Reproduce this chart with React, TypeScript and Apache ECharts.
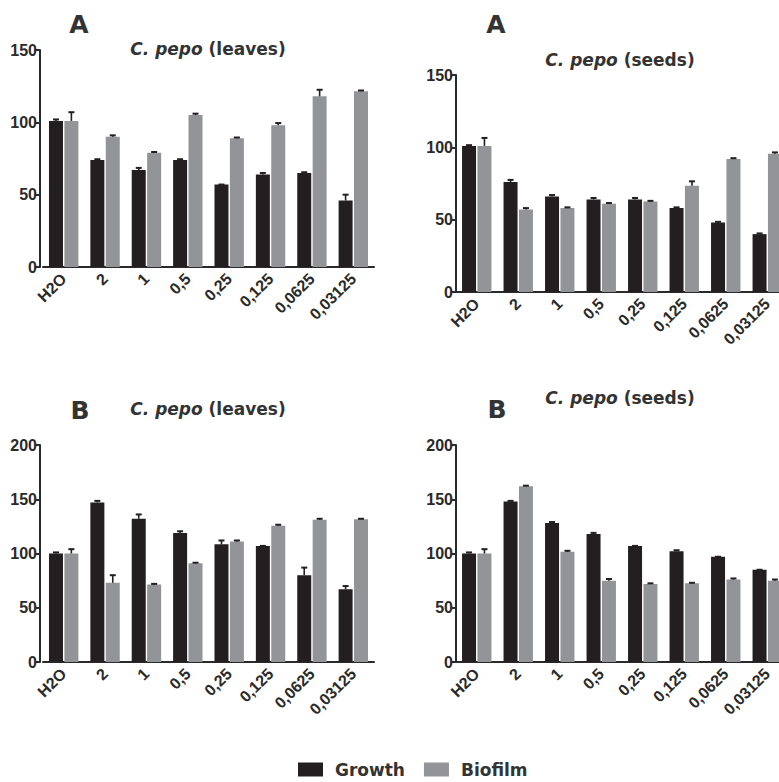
import React, { useEffect, useRef } from "react";
import * as echarts from "echarts";

const categories = ["H2O", "2", "1", "0,5", "0,25", "0,125", "0,0625", "0,03125"];

// Panel A – C. pepo (leaves)
const aLeavesGrowth = [101, 74, 67, 74, 57, 64, 65, 46];
const aLeavesGrowthErr = [1, 0.5, 1.5, 0.5, 0, 1, 0.5, 4];
const aLeavesBiofilm = [101, 90, 79, 105, 89, 98, 118, 121.5];
const aLeavesBiofilmErr = [6, 1, 0.5, 1, 0.5, 1.5, 4.5, 0.5];

// Panel A – C. pepo (seeds)
const aSeedsGrowth = [101, 76, 66, 64, 64, 58, 48, 40];
const aSeedsGrowthErr = [0.5, 1.5, 1, 1, 1, 0.5, 0.5, 0.5];
const aSeedsBiofilm = [101, 57, 58, 61, 62.5, 73.5, 92, 95.5];
const aSeedsBiofilmErr = [5.5, 1, 0.5, 0.5, 0.5, 3, 0.5, 1];

// Panel B – C. pepo (leaves)
const bLeavesGrowth = [100, 147, 132, 119, 108.5, 107, 80, 67];
const bLeavesGrowthErr = [1, 1.5, 4, 1.5, 3.5, 0, 7, 3];
const bLeavesBiofilm = [100, 73, 71.5, 91, 111, 125.5, 131, 131.5];
const bLeavesBiofilmErr = [4, 7, 0.5, 0.5, 1, 1, 1, 0.5];

// Panel B – C. pepo (seeds)
const bSeedsGrowth = [100, 148, 128, 118, 107, 102, 97, 85];
const bSeedsGrowthErr = [1, 0.5, 1, 1, 0, 1, 0, 0];
const bSeedsBiofilm = [100, 162, 101.5, 75, 72, 72.5, 76, 75];
const bSeedsBiofilmErr = [4, 0.5, 1, 1.5, 0.5, 0.5, 1, 1];

const yMaxA = 150;
const yMaxB = 200;
const yStep = 50;

const BLACK = "#231f20";
const GREY = "#939497";
const TEXT = "#2a2a2a";
const AXIS_FONT = "'Liberation Sans', Arial, sans-serif";
const TITLE_FONT = "'DejaVu Sans', sans-serif";

// chart canvas is a bit wider than the window so the right panels are cut at the edge like the reference
const CANVAS_W = 800;
const CANVAS_H = 782;

export default function App() {
  const ref = useRef<HTMLDivElement>(null);

  useEffect(() => {
    if (!ref.current) return;
    document.documentElement.style.overflow = "hidden";
    document.body.style.overflow = "hidden";
    const chart = echarts.init(ref.current, null, { renderer: "svg" });

    const grids = [
      { left: 43, top: 50, width: 331, height: 217 },
      { left: 456, top: 75, width: 332, height: 217 },
      { left: 43, top: 445, width: 331, height: 217 },
      { left: 456, top: 445, width: 332, height: 217 },
    ];
    const yOffsets = [3, 0, 3, 0];
    const yMaxes = [yMaxA, yMaxA, yMaxB, yMaxB];

    const xAxes = grids.map((_, i) => ({
      type: "category",
      gridIndex: i,
      data: categories,
      axisLine: { lineStyle: { color: TEXT, width: 2 } },
      axisTick: { alignWithLabel: true, length: 5, lineStyle: { color: TEXT, width: 2 } },
      axisLabel: {
        rotate: 45,
        interval: 0,
        margin: 9,
        fontSize: 16,
        fontWeight: "bold",
        fontFamily: AXIS_FONT,
        color: TEXT,
      },
    }));

    const yAxes = grids.map((_, i) => ({
      type: "value",
      gridIndex: i,
      min: 0,
      max: yMaxes[i],
      interval: yStep,
      offset: yOffsets[i],
      splitLine: { show: false },
      axisLine: { show: true, lineStyle: { color: TEXT, width: 2 } },
      axisTick: { show: true, length: 5, lineStyle: { color: TEXT, width: 2 } },
      axisLabel: {
        margin: 3,
        fontSize: 16,
        fontWeight: "bold",
        fontFamily: AXIS_FONT,
        color: TEXT,
      },
    }));

    const panels = [
      [aLeavesGrowth, aLeavesGrowthErr, aLeavesBiofilm, aLeavesBiofilmErr],
      [aSeedsGrowth, aSeedsGrowthErr, aSeedsBiofilm, aSeedsBiofilmErr],
      [bLeavesGrowth, bLeavesGrowthErr, bLeavesBiofilm, bLeavesBiofilmErr],
      [bSeedsGrowth, bSeedsGrowthErr, bSeedsBiofilm, bSeedsBiofilmErr],
    ];

    const BAR_W = 14;
    const GAP = 0.1;
    const off = (BAR_W + BAR_W * GAP) / 2;

    const errSeries = (vals: number[], errs: number[], idx: number, offset: number) => ({
      type: "custom",
      xAxisIndex: idx,
      yAxisIndex: idx,
      z: 5,
      silent: true,
      clip: false,
      encode: { x: 0, y: 1 },
      data: vals.map((v, i) => [i, v, errs[i]]),
      renderItem: (params: any, api: any) => {
        const i = api.value(0);
        const v = api.value(1);
        const e = api.value(2);
        const p0 = api.coord([i, v]);
        const p1 = api.coord([i, v + e]);
        const x = p0[0] + offset;
        return {
          type: "group",
          children: [
            {
              type: "line",
              shape: { x1: x, y1: p0[1], x2: x, y2: p1[1] },
              style: { stroke: BLACK, lineWidth: 1.6 },
            },
            {
              type: "line",
              shape: { x1: x - 3, y1: p1[1], x2: x + 3, y2: p1[1] },
              style: { stroke: BLACK, lineWidth: 2 },
            },
          ],
        };
      },
    });

    const series: any[] = [];
    panels.forEach((p, idx) => {
      const [g, ge, b, be] = p;
      series.push({
        type: "bar",
        name: "Growth",
        xAxisIndex: idx,
        yAxisIndex: idx,
        data: g,
        barWidth: BAR_W,
        barGap: "10%",
        itemStyle: { color: BLACK },
      });
      series.push({
        type: "bar",
        name: "Biofilm",
        xAxisIndex: idx,
        yAxisIndex: idx,
        data: b,
        barWidth: BAR_W,
        barGap: "10%",
        itemStyle: { color: GREY },
      });
      series.push(errSeries(g, ge, idx, -off));
      series.push(errSeries(b, be, idx, off));
    });

    const richStyle = {
      i: { fontStyle: "italic", fontWeight: "bold", fontSize: 17, fontFamily: TITLE_FONT, fill: "#333" },
      b: { fontWeight: "bold", fontSize: 17, fontFamily: TITLE_FONT, fill: "#333" },
    };
    const letter = (t: string, x: number, y: number) => ({
      type: "text",
      x,
      y,
      style: {
        text: t,
        fontSize: 25,
        fontWeight: "bold",
        fontFamily: TITLE_FONT,
        fill: "#333",
        align: "center",
        verticalAlign: "middle",
      },
    });
    const title = (organ: string, x: number, y: number) => ({
      type: "text",
      x,
      y,
      style: {
        text: "{i|C. pepo }{b|(" + organ + ")}",
        rich: richStyle,
        align: "center",
        verticalAlign: "middle",
      },
    });

    chart.setOption({
      animation: false,
      backgroundColor: "#ffffff",
      grid: grids,
      xAxis: xAxes,
      yAxis: yAxes,
      series,
      legend: {
        data: ["Growth", "Biofilm"],
        left: 298,
        top: 761,
        padding: 0,
        icon: "rect",
        itemWidth: 25,
        itemHeight: 14,
        itemGap: 19,
        textStyle: {
          fontSize: 17,
          fontWeight: "bold",
          fontFamily: TITLE_FONT,
          color: "#333",
          padding: [0, 0, 0, 7],
        },
      },
      graphic: [
        letter("A", 79, 24),
        title("leaves", 208, 49),
        letter("A", 496, 24),
        title("seeds", 620, 60),
        letter("B", 80, 410),
        title("leaves", 208, 409),
        letter("B", 497, 409),
        title("seeds", 620, 398),
      ],
    });

    return () => chart.dispose();
  }, []);

  return (
    <div style={{ position: "fixed", left: 0, top: 0, width: 779, height: 782, overflow: "hidden" }}>
      <div ref={ref} style={{ position: "absolute", left: 0, top: 0, width: CANVAS_W, height: CANVAS_H }} />
    </div>
  );
}
